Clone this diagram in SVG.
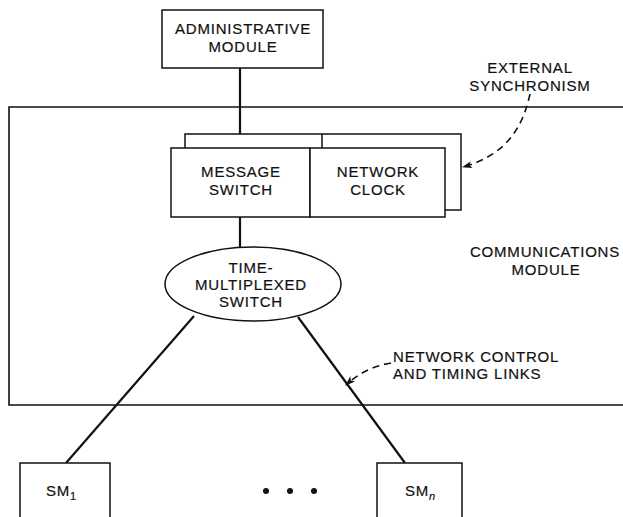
<svg xmlns="http://www.w3.org/2000/svg" width="623" height="517" viewBox="0 0 623 517">
  <style>
    .box { fill: #fff; stroke: #111; stroke-width: 1.5; }
    .frame { fill: none; stroke: #111; stroke-width: 1.6; }
    .link { fill: none; stroke: #111; stroke-width: 2.2; }
    .dash { fill: none; stroke: #111; stroke-width: 1.6; stroke-dasharray: 7 5; }
    text { font-family: "Liberation Sans", Arial, sans-serif; font-size: 15px; fill: #111; letter-spacing: 0.8px; stroke: #111; stroke-width: 0.2px; }
    .c { text-anchor: middle; }
  </style>
  <defs>
    <marker id="head" viewBox="0 0 10 10" refX="9" refY="5" markerWidth="14" markerHeight="10" markerUnits="userSpaceOnUse" orient="auto">
      <path d="M0,1.5 L10,5 L0,8.5 L2.5,5 Z" fill="#111"/>
    </marker>
  </defs>

  <!-- communications module frame (runs off the right edge) -->
  <g id="communications-module">
    <path class="frame" d="M630,107 H9 V405 H630"/>
    <text class="c" x="545" y="257">COMMUNICATIONS</text>
    <text class="c" x="546" y="275">MODULE</text>
  </g>

  <!-- connectors -->
  <g id="connectors">
    <line class="link" x1="240" y1="68" x2="240" y2="148"/>
    <line class="link" x1="240" y1="217" x2="240" y2="247"/>
    <line class="link" x1="194" y1="316" x2="66" y2="463"/>
    <line class="link" x1="298" y1="317" x2="405" y2="463"/>
    <path class="dash" d="M530,94 C522,130 505,155 463,167" marker-end="url(#head)"/>
    <path class="dash" d="M391,363 C372,366 358,374 346,385" marker-end="url(#head)"/>
  </g>

  <g id="administrative-module">
    <rect class="box" x="162" y="10" width="161" height="58"/>
    <text class="c" x="243" y="34">ADMINISTRATIVE</text>
    <text class="c" x="243" y="52">MODULE</text>
  </g>

  <!-- duplicated unit behind the switch/clock pair -->
  <g id="standby-unit">
    <rect class="box" x="185" y="134" width="276" height="76"/>
    <line class="box" x1="322" y1="134" x2="322" y2="148"/>
  </g>

  <g id="message-switch">
    <rect class="box" x="171" y="148" width="139" height="69"/>
    <text class="c" x="241" y="177">MESSAGE</text>
    <text class="c" x="241" y="195">SWITCH</text>
  </g>

  <g id="network-clock">
    <rect class="box" x="310" y="148" width="135" height="69"/>
    <text class="c" x="378" y="177">NETWORK</text>
    <text class="c" x="378" y="195">CLOCK</text>
  </g>

  <g id="time-multiplexed-switch">
    <ellipse class="box" cx="253" cy="284" rx="88" ry="37"/>
    <text class="c" x="251" y="273">TIME-</text>
    <text class="c" x="251" y="290">MULTIPLEXED</text>
    <text class="c" x="251" y="307">SWITCH</text>
  </g>

  <g id="external-sync-label">
    <text class="c" x="530" y="73">EXTERNAL</text>
    <text class="c" x="530" y="91">SYNCHRONISM</text>
  </g>

  <g id="links-label">
    <text x="393" y="362">NETWORK CONTROL</text>
    <text x="393" y="379">AND TIMING LINKS</text>
  </g>

  <g id="sm-1">
    <path class="box" d="M20,520 V463 H110 V520"/>
    <text x="46" y="496">SM<tspan font-size="11" dy="4">1</tspan></text>
  </g>

  <g id="ellipsis">
    <circle cx="266" cy="491" r="3" fill="#111"/>
    <circle cx="290" cy="491" r="3" fill="#111"/>
    <circle cx="314" cy="491" r="3" fill="#111"/>
  </g>

  <g id="sm-n">
    <path class="box" d="M377,520 V463 H462 V520"/>
    <text x="405" y="496">SM<tspan font-size="11" font-style="italic" dy="4">n</tspan></text>
  </g>
</svg>
